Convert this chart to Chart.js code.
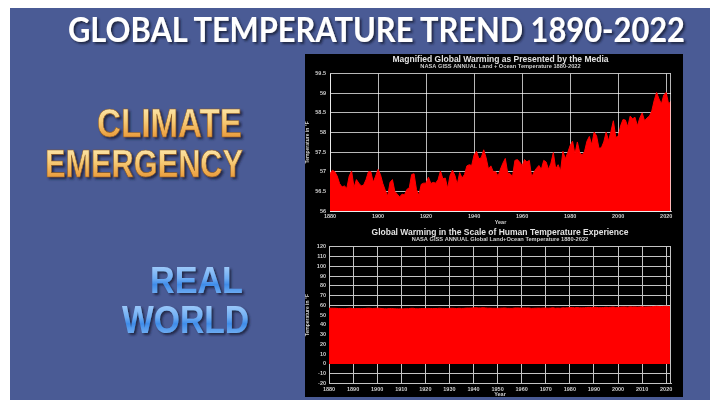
<!DOCTYPE html>
<html><head><meta charset="utf-8">
<script src="https://cdn.jsdelivr.net/npm/chart.js@4.4.0/dist/chart.umd.min.js"></script>
<style>
html,body{margin:0;padding:0;background:#fff;width:710px;height:400px;overflow:hidden}
#slide{position:absolute;left:0;top:0}
#panel{position:absolute;left:305px;top:54px;width:378px;height:343px;background:#000}
canvas{display:block}
</style></head><body>
<svg id="slide" width="710" height="400" xmlns="http://www.w3.org/2000/svg">
  <defs>
    <linearGradient id="gold" x1="0" y1="0" x2="0" y2="1">
      <stop offset="0" stop-color="#fff3c4"/>
      <stop offset="0.45" stop-color="#f7cc78"/>
      <stop offset="0.75" stop-color="#eda445"/>
      <stop offset="1" stop-color="#d8892c"/>
    </linearGradient>
    <linearGradient id="blue" x1="0" y1="0" x2="0" y2="1">
      <stop offset="0" stop-color="#b8dafd"/>
      <stop offset="0.45" stop-color="#6eadf4"/>
      <stop offset="0.6" stop-color="#3f8ce9"/>
      <stop offset="1" stop-color="#93c5f8"/>
    </linearGradient>
    <filter id="sh" x="-10%" y="-20%" width="130%" height="160%">
      <feDropShadow dx="2" dy="2" stdDeviation="1.2" flood-color="#141a38" flood-opacity="0.85"/>
    </filter>
    <filter id="sh2" x="-10%" y="-20%" width="130%" height="160%">
      <feDropShadow dx="2" dy="2" stdDeviation="1" flood-color="#1c2140" flood-opacity="0.9"/>
    </filter>
  </defs>
  <rect x="10" y="8" width="700" height="392" fill="#4a5b95"/>
  <text x="68" y="42" font-family="Lato, 'Open Sans', sans-serif" font-weight="bold" font-size="35" fill="#ffffff" textLength="617" lengthAdjust="spacingAndGlyphs" filter="url(#sh)">GLOBAL TEMPERATURE TREND 1890-2022</text>
  <g font-family="'Liberation Sans', Arial, sans-serif" font-weight="bold" filter="url(#sh2)">
    <text x="97" y="137" font-size="40" fill="url(#gold)" stroke="#8a5a20" stroke-width="0.6" textLength="145" lengthAdjust="spacingAndGlyphs">CLIMATE</text>
    <text x="45" y="177" font-size="39" fill="url(#gold)" stroke="#8a5a20" stroke-width="0.6" textLength="198" lengthAdjust="spacingAndGlyphs">EMERGENCY</text>
    <text x="150" y="293" font-size="37" fill="url(#blue)" textLength="93" lengthAdjust="spacingAndGlyphs">REAL</text>
    <text x="122" y="333" font-size="39" fill="url(#blue)" textLength="127" lengthAdjust="spacingAndGlyphs">WORLD</text>
  </g>
</svg>
<div id="panel"><canvas id="topc" width="378" height="171"></canvas><canvas id="botc" width="378" height="172"></canvas></div>
<script>
const years = [
1880,1881,1882,1883,1884,1885,1886,1887,1888,1889,
1890,1891,1892,1893,1894,1895,1896,1897,1898,1899,
1900,1901,1902,1903,1904,1905,1906,1907,1908,1909,
1910,1911,1912,1913,1914,1915,1916,1917,1918,1919,
1920,1921,1922,1923,1924,1925,1926,1927,1928,1929,
1930,1931,1932,1933,1934,1935,1936,1937,1938,1939,
1940,1941,1942,1943,1944,1945,1946,1947,1948,1949,
1950,1951,1952,1953,1954,1955,1956,1957,1958,1959,
1960,1961,1962,1963,1964,1965,1966,1967,1968,1969,
1970,1971,1972,1973,1974,1975,1976,1977,1978,1979,
1980,1981,1982,1983,1984,1985,1986,1987,1988,1989,
1990,1991,1992,1993,1994,1995,1996,1997,1998,1999,
2000,2001,2002,2003,2004,2005,2006,2007,2008,2009,
2010,2011,2012,2013,2014,2015,2016,2017,2018,2019,
2020,2021,2022];

const tempF = [
56.95,57.04,57.00,56.89,56.70,56.61,56.64,56.58,56.89,57.02,
56.60,56.80,56.71,56.64,56.66,56.80,57.00,57.00,56.73,56.89,
57.06,56.93,56.70,56.53,56.38,56.73,56.80,56.50,56.43,56.36,
56.43,56.41,56.55,56.59,56.93,56.95,56.55,56.40,56.68,56.71,
56.71,56.86,56.70,56.73,56.71,56.80,57.02,56.82,56.84,56.58,
56.91,57.04,56.91,56.68,56.98,56.84,56.93,57.15,57.18,57.16,
57.43,57.52,57.33,57.36,57.56,57.36,57.07,57.15,57.00,57.00,
56.89,57.07,57.22,57.34,56.97,56.95,56.88,57.29,57.31,57.25,
57.15,57.31,57.25,57.29,56.86,57.00,57.09,57.16,57.06,57.29,
57.25,57.06,57.22,57.49,57.07,57.18,57.02,57.52,57.33,57.49,
57.67,57.78,57.45,57.76,57.49,57.42,57.52,57.78,57.90,57.69,
58.01,57.92,57.60,57.61,57.76,58.01,57.79,58.03,58.30,57.88,
57.90,58.17,58.33,58.32,58.15,58.42,58.35,58.39,58.17,58.37,
58.50,58.30,58.37,58.42,58.55,58.82,59.02,58.86,58.73,58.96,
59.02,58.73,58.80];

const topYTicks = [56,56.5,57,57.5,58,58.5,59,59.5];
const topXTicks = [1880,1900,1920,1940,1960,1980,2000,2020];
const botYTicks = [-20,-10,0,10,20,30,40,50,60,70,80,90,100,110,120];
const botXTicks = [1880,1890,1900,1910,1920,1930,1940,1950,1960,1970,1980,1990,2000,2010,2020];

const FONT = "'Liberation Sans', Arial, sans-serif";
const points = years.map((y, i) => ({x: y, y: tempF[i]}));

const frame = {
  id: 'frame',
  afterDraw(chart, args, o) {
    const {ctx, chartArea: a} = chart;
    ctx.save();
    ctx.strokeStyle = o.color;
    ctx.lineWidth = 1;
    ctx.beginPath();
    const xr = Math.round(a.right) - 0.5;
    ctx.moveTo(xr, a.top);
    ctx.lineTo(xr, a.bottom);
    ctx.stroke();
    ctx.restore();
  }
};

function makeChart(id, cfg) {
  const gridColor = cfg.gridColor;
  return new Chart(document.getElementById(id), {
    type: 'line',
    data: {
      datasets: [{
        data: points,
        fill: cfg.fill,
        backgroundColor: '#ff0000',
        borderColor: '#ff0000',
        borderWidth: 1,
        pointRadius: 0,
        tension: 0
      }]
    },
    plugins: [frame],
    options: {
      responsive: false,
      animation: false,
      events: [],
      layout: {padding: {left: 0, right: 12, top: 0, bottom: 0}},
      plugins: {
        legend: {display: false},
        tooltip: {enabled: false},
        frame: {color: gridColor},
        title: {
          display: true, text: cfg.title, color: '#e2e2e2', fullSize: false,
          font: {family: FONT, size: 8.5, weight: 'bold', lineHeight: 1},
          padding: {top: cfg.titleTop, bottom: 0}
        },
        subtitle: {
          display: true, text: cfg.subtitle, color: '#cfcfcf', fullSize: false,
          font: {family: FONT, size: 5.7, weight: 'bold', lineHeight: 1},
          padding: {top: 0, bottom: 4}
        }
      },
      scales: {
        x: {
          type: 'linear', min: 1880, max: 2022, z: cfg.z,
          afterBuildTicks: s => { s.ticks = cfg.xTicks.map(v => ({value: v})); },
          afterFit: s => { s.height = cfg.xHeight; },
          ticks: {color: '#cfcfcf', padding: cfg.xPad, maxRotation: 0, autoSkip: false,
                  font: {family: FONT, size: 5.5, weight: 'bold', lineHeight: 1},
                  callback: v => String(v)},
          grid: {color: gridColor, lineWidth: 1, drawTicks: false},
          border: {display: true, color: gridColor, width: 1},
          title: {display: true, text: 'Year', color: '#cfcfcf', padding: {top: 0, bottom: 0},
                  font: {family: FONT, size: 5.5, weight: 'bold', lineHeight: 1}}
        },
        y: {
          type: 'linear', min: cfg.yMin, max: cfg.yMax, z: cfg.z,
          afterBuildTicks: s => { s.ticks = cfg.yTicks.map(v => ({value: v})); },
          afterFit: s => { s.width = cfg.yWidth; },
          ticks: {color: '#cfcfcf', padding: cfg.yPad, autoSkip: false,
                  font: {family: FONT, size: 5.5, weight: 'bold', lineHeight: 1},
                  callback: v => String(v)},
          grid: {color: gridColor, lineWidth: 1, drawTicks: false},
          border: {display: true, color: gridColor, width: 1},
          title: {display: true, text: 'Temperature in °F', color: '#cfcfcf', padding: {top: 0, bottom: 0},
                  font: {family: FONT, size: 5, weight: 'bold', lineHeight: 1}}
        }
      }
    }
  });
}

makeChart('topc', {
  title: 'Magnified Global Warming as Presented by the Media',
  subtitle: 'NASA GISS ANNUAL Land + Ocean Temperature 1880-2022',
  titleTop: 1.5, fill: 'start', z: 1,
  gridColor: 'rgba(255,255,255,0.72)',
  yMin: 56, yMax: 59.5, yTicks: topYTicks, xTicks: topXTicks,
  xHeight: 14, xPad: 3, yWidth: 25, yPad: 4
});

makeChart('botc', {
  title: 'Global Warming in the Scale of Human Temperature Experience',
  subtitle: 'NASA GISS ANNUAL Global Land+Ocean Temperature 1880-2022',
  titleTop: 3.5, fill: 'origin', z: 0,
  gridColor: '#c4c4c4',
  yMin: -20, yMax: 120, yTicks: botYTicks, xTicks: botXTicks,
  xHeight: 13.5, xPad: 2.75, yWidth: 24, yPad: 3
});
</script>
</body></html>
